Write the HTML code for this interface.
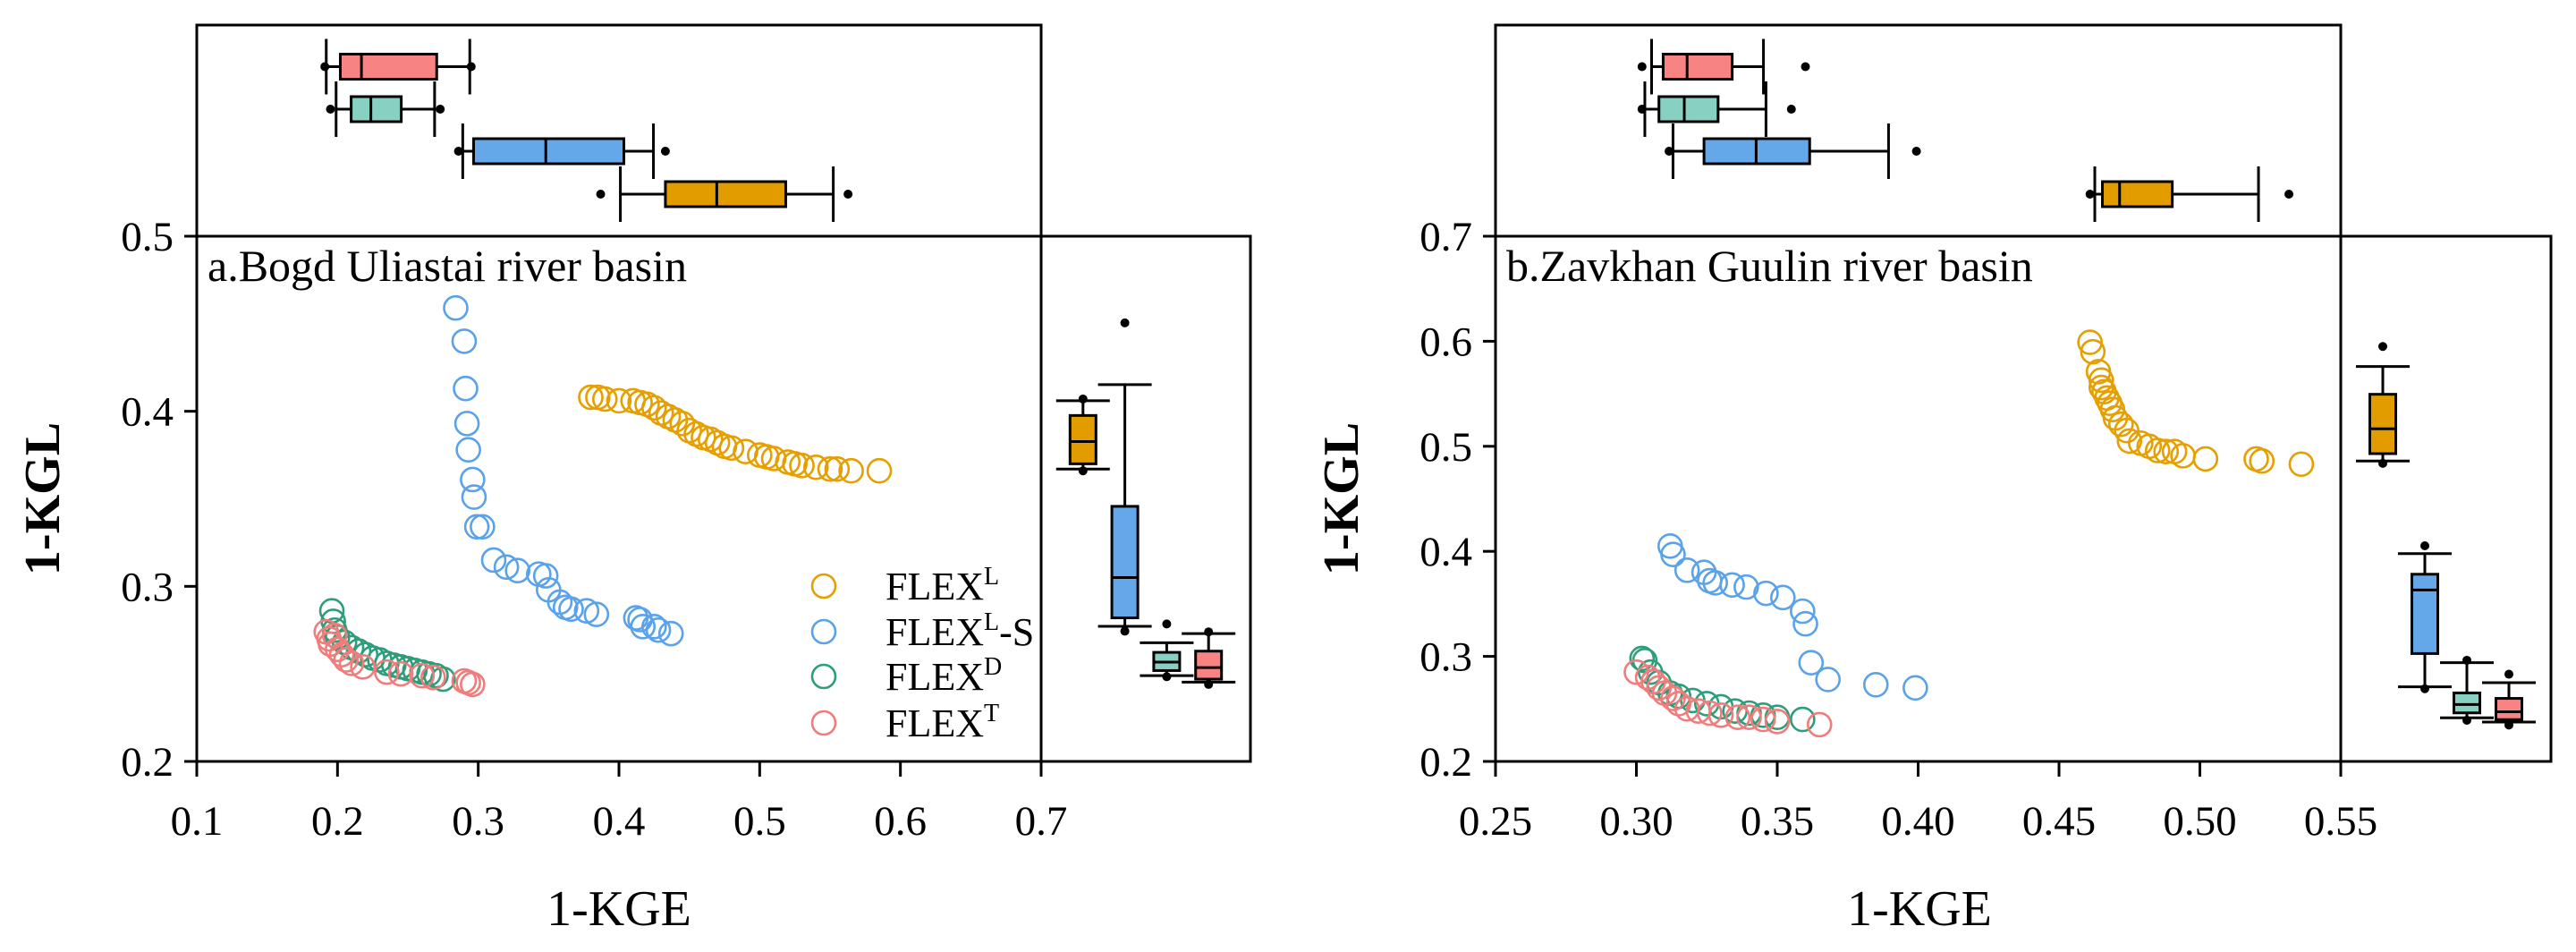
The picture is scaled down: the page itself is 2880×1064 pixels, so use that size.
<!DOCTYPE html>
<html><head><meta charset="utf-8"><style>
html,body{margin:0;padding:0;background:#fff}
svg{display:block}
text{font-family:"Liberation Serif",serif;fill:#000}
</style></head><body>
<svg id="chart" width="2880" height="1064" viewBox="0 0 2880 1064" xmlns="http://www.w3.org/2000/svg"></svg>
<script>
const seriesNames=["FLEX_L","FLEX_LS","FLEX_D","FLEX_T"];
const legendLabels=["FLEX","FLEX","FLEX","FLEX"];
const legendSups=["L","L","D","T"];
const legendSuffix=["","-S","",""];
const lineColors=["#E69F00","#5AA2EA","#2E9E7A","#F07C7C"];
const boxFills=["#E39C00","#64A8EA","#88D0C2","#F88383"];

// panel a
const aTitle="a.Bogd Uliastai river basin";
const aXTicks=[0.1,0.2,0.3,0.4,0.5,0.6,0.7];
const aXTickLabels=["0.1","0.2","0.3","0.4","0.5","0.6","0.7"];
const aYTicks=[0.2,0.3,0.4,0.5];
const aYTickLabels=["0.2","0.3","0.4","0.5"];
const aL_x=[0.38,0.385,0.39,0.40,0.41,0.415,0.42,0.425,0.43,0.435,0.44,0.445,0.45,0.455,0.46,0.465,0.47,0.475,0.48,0.49,0.50,0.505,0.51,0.52,0.525,0.53,0.54,0.55,0.555,0.565,0.585];
const aL_y=[0.408,0.408,0.407,0.406,0.406,0.405,0.404,0.402,0.399,0.397,0.395,0.393,0.389,0.387,0.385,0.384,0.382,0.380,0.379,0.377,0.375,0.374,0.373,0.371,0.370,0.369,0.368,0.367,0.367,0.366,0.366];
const aLS_x=[0.284,0.29,0.291,0.292,0.293,0.296,0.297,0.299,0.303,0.311,0.32,0.328,0.343,0.348,0.35,0.358,0.362,0.366,0.377,0.384,0.412,0.415,0.417,0.425,0.428,0.437];
const aLS_y=[0.459,0.440,0.413,0.393,0.378,0.361,0.351,0.334,0.334,0.315,0.311,0.309,0.307,0.306,0.298,0.291,0.288,0.287,0.286,0.284,0.282,0.281,0.277,0.277,0.275,0.273];
const aD_x=[0.196,0.197,0.198,0.2,0.205,0.21,0.215,0.22,0.225,0.23,0.235,0.24,0.245,0.25,0.255,0.26,0.265,0.27,0.275];
const aD_y=[0.286,0.280,0.275,0.271,0.268,0.265,0.263,0.261,0.259,0.258,0.256,0.255,0.254,0.253,0.252,0.251,0.250,0.249,0.247];
const aT_x=[0.192,0.194,0.195,0.198,0.2,0.203,0.206,0.21,0.218,0.235,0.245,0.26,0.268,0.29,0.293,0.296];
const aT_y=[0.274,0.270,0.267,0.272,0.264,0.261,0.258,0.256,0.254,0.251,0.250,0.249,0.248,0.246,0.245,0.244];
const aTopL=[0.401,0.433,0.4695,0.5185,0.5523,0.387,0.5628];
const aTopLS=[0.289,0.2967,0.348,0.4035,0.4245,0.286,0.433];
const aTopD=[0.199,0.2097,0.2237,0.2453,0.269,0.195,0.273];
const aTopT=[0.192,0.202,0.217,0.2705,0.294,0.191,0.295];
const aRightL=[0.367,0.370,0.3827,0.3976,0.406,0.366,0.407];
const aRightLS=[0.2772,0.282,0.305,0.3457,0.4152,0.2744,0.4505];
const aRightD=[0.249,0.2519,0.2567,0.2623,0.2678,0.2484,0.2785];
const aRightT=[0.2453,0.247,0.2536,0.263,0.273,0.244,0.274];

// panel b
const bTitle="b.Zavkhan Guulin river basin";
const bXTicks=[0.25,0.30,0.35,0.40,0.45,0.50,0.55];
const bXTickLabels=["0.25","0.30","0.35","0.40","0.45","0.50","0.55"];
const bYTicks=[0.2,0.3,0.4,0.5,0.6,0.7];
const bYTickLabels=["0.2","0.3","0.4","0.5","0.6","0.7"];
const bL_x=[0.461,0.462,0.464,0.465,0.465,0.466,0.467,0.468,0.469,0.470,0.472,0.474,0.475,0.479,0.482,0.485,0.488,0.491,0.494,0.502,0.520,0.522,0.536];
const bL_y=[0.599,0.590,0.571,0.563,0.556,0.552,0.546,0.541,0.535,0.527,0.521,0.515,0.505,0.503,0.500,0.496,0.495,0.495,0.491,0.488,0.488,0.486,0.483];
const bLS_x=[0.312,0.313,0.318,0.324,0.326,0.328,0.334,0.339,0.346,0.352,0.359,0.36,0.362,0.368,0.385,0.399];
const bLS_y=[0.405,0.397,0.382,0.380,0.372,0.370,0.368,0.366,0.360,0.356,0.343,0.331,0.294,0.278,0.273,0.270];
const bD_x=[0.302,0.303,0.305,0.308,0.312,0.315,0.32,0.325,0.33,0.335,0.34,0.345,0.35,0.359];
const bD_y=[0.298,0.296,0.285,0.275,0.265,0.262,0.258,0.255,0.252,0.248,0.246,0.244,0.242,0.240];
const bT_x=[0.300,0.304,0.306,0.308,0.31,0.313,0.315,0.318,0.322,0.326,0.33,0.336,0.34,0.345,0.35,0.365];
const bT_y=[0.285,0.280,0.276,0.270,0.265,0.260,0.255,0.250,0.248,0.246,0.244,0.242,0.242,0.240,0.238,0.235];
const bTopL=[0.4627,0.4654,0.4715,0.4902,0.5208,0.461,0.5316];
const bTopLS=[0.313,0.324,0.3425,0.3615,0.3895,0.3116,0.3994];
const bTopD=[0.303,0.308,0.317,0.329,0.346,0.302,0.355];
const bTopT=[0.3054,0.3095,0.318,0.334,0.3451,0.302,0.360];
const bRightL=[0.486,0.493,0.5166,0.5495,0.576,0.4838,0.595];
const bRightLS=[0.271,0.3027,0.3632,0.3782,0.3978,0.2692,0.4053];
const bRightD=[0.2415,0.2462,0.2542,0.2652,0.294,0.2392,0.2963];
const bRightT=[0.2375,0.2398,0.2473,0.260,0.275,0.2346,0.283];

const NS="http://www.w3.org/2000/svg";
const svg=document.getElementById("chart");
function mk(tag,attrs,parent){const e=document.createElementNS(NS,tag);for(const k in attrs)e.setAttribute(k,attrs[k]);(parent||svg).appendChild(e);return e;}

function drawPanel(p){
  const g=mk("g",{});
  
  
  const L=p.left,R=p.right,T=p.top,B=p.bottom;
  const sx=v=>L+(v-p.x0)/(p.x1-p.x0)*(R-L);
  const sy=v=>B-(v-p.y0)/(p.y1-p.y0)*(B-T);
  const top=mk("rect",{x:L,y:28,width:R-L,height:T-28,fill:"none",stroke:"#000","stroke-width":3},g);
  
  
  const main=mk("rect",{x:L,y:T,width:R-L,height:B-T,fill:"none",stroke:"#000","stroke-width":3},g);
  
  
  const side=mk("rect",{x:R,y:T,width:p.sideRight-R,height:B-T,fill:"none",stroke:"#000","stroke-width":3},g);
  
  
  p.xTicks.forEach((v,i)=>{
    const x=sx(v);
    const t=mk("line",{x1:x,y1:B,x2:x,y2:B+17,stroke:"#000","stroke-width":3},g);
    
    
    const tl=mk("text",{x:x,y:933,"font-size":47,"text-anchor":"middle"},g);
    tl.textContent=p.xTickLabels[i];
    
    
  });
  p.yTicks.forEach((v,i)=>{
    const y=sy(v);
    const t=mk("line",{x1:L-14,y1:y,x2:L,y2:y,stroke:"#000","stroke-width":3},g);
    
    
    const tl=mk("text",{x:L-26,y:y+16,"font-size":47,"text-anchor":"end"},g);
    tl.textContent=p.yTickLabels[i];
    
    
  });
  const xt=mk("text",{x:p.xTitleX,y:1034,"font-size":56,"text-anchor":"middle"},g);
  xt.textContent="1-KGE";
  
  
  const yt=mk("text",{x:0,y:0,"font-size":56,"font-weight":"bold","text-anchor":"middle",transform:`translate(${p.yTitleX},${(T+B)/2}) rotate(-90)`},g);
  yt.textContent="1-KGL";
  
  
  const tt=mk("text",{x:L+12,y:314,"font-size":50},g);
  tt.textContent=p.title;
  
  
  p.series.forEach((s,k)=>{
    const sg=mk("g",{},g);
    
    
    s[0].forEach((xv,i)=>{
      const c=mk("circle",{cx:sx(xv),cy:sy(s[1][i]),r:13,fill:"none",stroke:lineColors[k],"stroke-width":2.6},sg);
      
      
    });
  });
  const rows=[217,169,122,74.5];
  p.topBoxes.forEach((b,k)=>{
    const bg=mk("g",{},g);
    
    
    const y=rows[k],h=14;
    mk("line",{x1:sx(b[0]),y1:y,x2:sx(b[1]),y2:y,stroke:"#000","stroke-width":3},bg);
    mk("line",{x1:sx(b[3]),y1:y,x2:sx(b[4]),y2:y,stroke:"#000","stroke-width":3},bg);
    mk("line",{x1:sx(b[0]),y1:y-31,x2:sx(b[0]),y2:y+31,stroke:"#000","stroke-width":3},bg);
    mk("line",{x1:sx(b[4]),y1:y-31,x2:sx(b[4]),y2:y+31,stroke:"#000","stroke-width":3},bg);
    mk("rect",{x:sx(b[1]),y:y-h,width:sx(b[3])-sx(b[1]),height:2*h,fill:boxFills[k],stroke:"#000","stroke-width":3},bg);
    mk("line",{x1:sx(b[2]),y1:y-h,x2:sx(b[2]),y2:y+h,stroke:"#000","stroke-width":3},bg);
    mk("circle",{cx:sx(b[5]),cy:y,r:5,fill:"#000"},bg);
    mk("circle",{cx:sx(b[6]),cy:y,r:5,fill:"#000"},bg);
  });
  const sp=(p.sideRight-R);
  const cols=[0.2,0.4,0.6,0.8].map(f=>R+f*sp);
  p.rightBoxes.forEach((b,k)=>{
    const bg=mk("g",{},g);
    
    
    const x=cols[k],w=14.5;
    mk("line",{x1:x,y1:sy(b[0]),x2:x,y2:sy(b[1]),stroke:"#000","stroke-width":3},bg);
    mk("line",{x1:x,y1:sy(b[3]),x2:x,y2:sy(b[4]),stroke:"#000","stroke-width":3},bg);
    mk("line",{x1:x-30,y1:sy(b[0]),x2:x+30,y2:sy(b[0]),stroke:"#000","stroke-width":3},bg);
    mk("line",{x1:x-30,y1:sy(b[4]),x2:x+30,y2:sy(b[4]),stroke:"#000","stroke-width":3},bg);
    mk("rect",{x:x-w,y:sy(b[3]),width:2*w,height:sy(b[1])-sy(b[3]),fill:boxFills[k],stroke:"#000","stroke-width":3},bg);
    mk("line",{x1:x-w,y1:sy(b[2]),x2:x+w,y2:sy(b[2]),stroke:"#000","stroke-width":3},bg);
    mk("circle",{cx:x,cy:sy(b[5]),r:5,fill:"#000"},bg);
    mk("circle",{cx:x,cy:sy(b[6]),r:5,fill:"#000"},bg);
  });
}

drawPanel({id:"panel-a",left:220,right:1164,top:264,bottom:851,sideRight:1398,x0:0.1,x1:0.7,y0:0.2,y1:0.5,
  xTicks:aXTicks,xTickLabels:aXTickLabels,yTicks:aYTicks,yTickLabels:aYTickLabels,title:aTitle,xTitleX:692,yTitleX:66,
  series:[[aL_x,aL_y],[aLS_x,aLS_y],[aD_x,aD_y],[aT_x,aT_y]],
  topBoxes:[aTopL,aTopLS,aTopD,aTopT],rightBoxes:[aRightL,aRightLS,aRightD,aRightT]});
drawPanel({id:"panel-b",left:1672,right:2617,top:264,bottom:851,sideRight:2852,x0:0.25,x1:0.55,y0:0.2,y1:0.7,
  xTicks:bXTicks,xTickLabels:bXTickLabels,yTicks:bYTicks,yTickLabels:bYTickLabels,title:bTitle,xTitleX:2146,yTitleX:1518,
  series:[[bL_x,bL_y],[bLS_x,bLS_y],[bD_x,bD_y],[bT_x,bT_y]],
  topBoxes:[bTopL,bTopLS,bTopD,bTopT],rightBoxes:[bRightL,bRightLS,bRightD,bRightT]});

const lg=mk("g",{});


const legY=[655,706,756,808];
legendLabels.forEach((lab,k)=>{
  const c=mk("circle",{cx:921,cy:legY[k],r:13,fill:"none",stroke:lineColors[k],"stroke-width":2.6},lg);
  
  
  const t=mk("text",{x:990,y:legY[k]+15,"font-size":44},lg);
  
  
  const a=document.createElementNS(NS,"tspan");a.textContent=lab;t.appendChild(a);
  const s=document.createElementNS(NS,"tspan");s.setAttribute("dy","-17");s.setAttribute("font-size","28");s.textContent=legendSups[k];t.appendChild(s);
  if(legendSuffix[k]){const q=document.createElementNS(NS,"tspan");q.setAttribute("dy","17");q.textContent=legendSuffix[k];t.appendChild(q);}
});
</script>
</body></html>
